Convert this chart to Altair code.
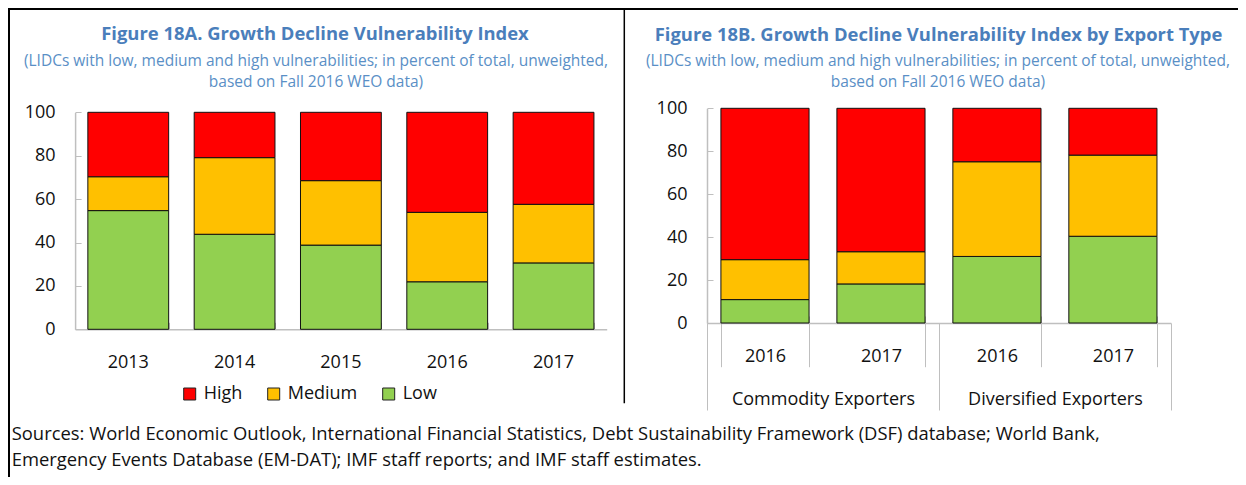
import altair as alt
import pandas as pd

# ---------------- data ----------------
years_a = ["2013", "2014", "2015", "2016", "2017"]
low_a = [54.7, 43.8, 38.8, 21.9, 30.6]
med_a = [15.6, 35.3, 29.7, 32.0, 27.0]
high_a = [29.7, 20.9, 31.5, 46.1, 42.4]

groups_b = ["Commodity Exporters", "Commodity Exporters", "Diversified Exporters", "Diversified Exporters"]
years_b = ["2016", "2017", "2016", "2017"]
low_b = [10.9, 18.2, 31.0, 40.4]
med_b = [18.6, 15.0, 44.1, 37.8]
high_b = [70.5, 66.8, 24.9, 21.8]

levels = ["High", "Medium", "Low"]
level_colors = ["#FF0000", "#FFC000", "#92D050"]
y_ticks = [0, 20, 40, 60, 80, 100]

title_a = "Figure 18A. Growth Decline Vulnerability Index"
title_b = "Figure 18B. Growth Decline Vulnerability Index by Export Type"
subtitle_1 = "(LIDCs with low, medium and high vulnerabilities; in percent of total, unweighted,"
subtitle_2 = "based on Fall 2016 WEO data)"
sources_1 = ("Sources: World Economic Outlook, International Financial Statistics, "
             "Debt Sustainability Framework (DSF) database; World Bank,")
sources_2 = "Emergency Events Database (EM-DAT); IMF staff reports; and IMF staff estimates."

# ---------------- tables ----------------
rank = {"Low": 1, "Medium": 2, "High": 3}
rows_a = []
for i, yr in enumerate(years_a):
    for lvl, arr in (("Low", low_a), ("Medium", med_a), ("High", high_a)):
        rows_a.append({"year": yr, "level": lvl, "value": arr[i], "rank": rank[lvl]})
df_a = pd.DataFrame(rows_a)

keys_b = [g + "|" + y for g, y in zip(groups_b, years_b)]
rows_b = []
for i, k in enumerate(keys_b):
    for lvl, arr in (("Low", low_b), ("Medium", med_b), ("High", high_b)):
        rows_b.append({"key": k, "level": lvl, "value": arr[i], "rank": rank[lvl]})
df_b = pd.DataFrame(rows_b)

group_names = list(dict.fromkeys(groups_b))
df_g = pd.DataFrame({"group": group_names})

FONT = "Open Sans"
W, H = 1230, 469
GRAY = "#BFBFBF"
TXT = "#111111"
TITLE_C = "#4A7EBB"
SUB_C = "#5A8FC6"

# ---------------- scales ----------------
xa_scale = alt.Scale(domain=years_a, range=[67.1, 598.7], paddingInner=0.24, paddingOuter=0.12)
ya_scale = alt.Scale(domain=[0, 100], range=[321.3, 104.3], nice=False)
xb_scale = alt.Scale(domain=keys_b, range=[699, 1162.9], paddingInner=0.24, paddingOuter=0.12)
yb_scale = alt.Scale(domain=[0, 100], range=[315, 100.3], nice=False)
xg_scale = alt.Scale(domain=group_names, range=[699, 1162.9], paddingInner=0, paddingOuter=0)

color = alt.Color(
    "level:N",
    scale=alt.Scale(domain=levels, range=level_colors),
    legend=alt.Legend(
        orient="none", legendX=172.7, legendY=377, direction="horizontal", title=None,
        symbolType="square", symbolSize=144, symbolStrokeColor="#222222", symbolStrokeWidth=1,
        symbolOpacity=1, labelFont=FONT, labelFontSize=18, labelColor=TXT,
        labelOffset=5, columnPadding=22, padding=0,
    ),
)

# ---------------- left panel ----------------
ticks_a = alt.Chart(df_a).mark_point(opacity=0).encode(
    x=alt.X("year:N", scale=xa_scale, axis=alt.Axis(
        orient="top", offset=-321.3, title=None, labels=False, domain=False,
        tickBand="extent", tickSize=7, tickColor=GRAY)),
    y=alt.Y("value:Q", scale=ya_scale, axis=alt.Axis(
        orient="right", offset=67.1 - W, title=None, labels=False, domain=False,
        values=y_ticks, tickSize=6, tickColor=GRAY)),
)

bars_a = alt.Chart(df_a).mark_bar(stroke="#111111", strokeWidth=1).encode(
    x=alt.X("year:N", scale=xa_scale, axis=alt.Axis(
        orient="bottom", offset=321.3 - H, title=None, ticks=False, labelAngle=0,
        labelPadding=24, domainColor=GRAY, domainWidth=1.5)),
    y=alt.Y("value:Q", stack="zero", scale=ya_scale, axis=alt.Axis(
        orient="left", offset=-67.1, title=None, values=y_ticks, ticks=False,
        labelPadding=20, domainColor=GRAY, domainWidth=1.5)),
    color=color,
    order=alt.Order("rank:Q"),
)

# ---------------- right panel ----------------
ticks_b = alt.Chart(df_b).mark_point(opacity=0).encode(
    x=alt.X("key:N", scale=xb_scale, axis=alt.Axis(
        orient="top", offset=-315, title=None, labels=False, domain=False,
        tickBand="extent", tickSize=7, tickColor=GRAY)),
    y=alt.Y("value:Q", scale=yb_scale, axis=alt.Axis(
        orient="right", offset=699 - W, title=None, labels=False, domain=False,
        values=y_ticks, tickSize=6, tickColor=GRAY)),
)

group_axis = alt.Chart(df_g).mark_rule(opacity=0).encode(
    x=alt.X("group:N", scale=xg_scale, axis=alt.Axis(
        orient="bottom", offset=315 - H, title=None, domain=False, labelAngle=0,
        tickBand="extent", tickSize=87, tickColor=GRAY, labelPadding=-19.4)),
)

bars_b = alt.Chart(df_b).mark_bar(stroke="#111111", strokeWidth=1).encode(
    x=alt.X("key:N", scale=xb_scale, axis=alt.Axis(
        orient="bottom", offset=315 - H, title=None, labelAngle=0,
        labelExpr="split(datum.label, '|')[1]",
        tickBand="extent", tickSize=43.7, tickColor=GRAY, labelPadding=-19.5,
        domainColor=GRAY, domainWidth=1.5)),
    y=alt.Y("value:Q", stack="zero", scale=yb_scale, axis=alt.Axis(
        orient="left", offset=-699, title=None, values=y_ticks, ticks=False,
        labelPadding=20, domainColor=GRAY, domainWidth=1.5)),
    color=color,
    order=alt.Order("rank:Q"),
)


# ---------------- texts & frame ----------------
def text_layer(txt, x, y, size, col, weight="normal", align="center"):
    return alt.Chart(pd.DataFrame({"t": [txt]})).mark_text(
        align=align, baseline="alphabetic", font=FONT, fontSize=size,
        fontWeight=weight, color=col,
    ).encode(x=alt.value(x), y=alt.value(y), text="t:N")


texts = [
    text_layer(title_a, 307, 32, 18.4, TITLE_C, "bold"),
    text_layer(subtitle_1, 308, 57.5, 15.5, SUB_C),
    text_layer(subtitle_2, 308, 79, 15.5, SUB_C),
    text_layer(title_b, 930.5, 32.5, 18.4, TITLE_C, "bold"),
    text_layer(subtitle_1, 930, 57.5, 15.5, SUB_C),
    text_layer(subtitle_2, 930, 79, 15.5, SUB_C),
    text_layer(sources_1, 3.7, 432, 18.4, TXT, align="left"),
    text_layer(sources_2, 3.7, 457.7, 18.4, TXT, align="left"),
]

one = pd.DataFrame({"a": [0]})
frame = [
    alt.Chart(one).mark_rule(color="black", strokeWidth=2).encode(
        x=alt.value(1), y=alt.value(0), y2=alt.value(H)),
    alt.Chart(one).mark_rule(color="black", strokeWidth=2).encode(
        x=alt.value(0), x2=alt.value(W), y=alt.value(1)),
    alt.Chart(one).mark_rule(color="black", strokeWidth=1.5).encode(
        x=alt.value(616.3), y=alt.value(0), y2=alt.value(395.3)),
]

chart = alt.layer(
    *frame, *texts, ticks_a, ticks_b, group_axis, bars_a, bars_b
).resolve_scale(
    x="independent", y="independent"
).properties(
    width=W, height=H, padding=0,
    autosize=alt.AutoSizeParams(type="none"),
).configure_view(
    stroke=None
).configure_axis(
    labelFont=FONT, labelFontSize=18, labelColor=TXT, labelLimit=400, grid=False,
)

chart.save("out.html", embed_options={"renderer": "svg", "actions": False})
